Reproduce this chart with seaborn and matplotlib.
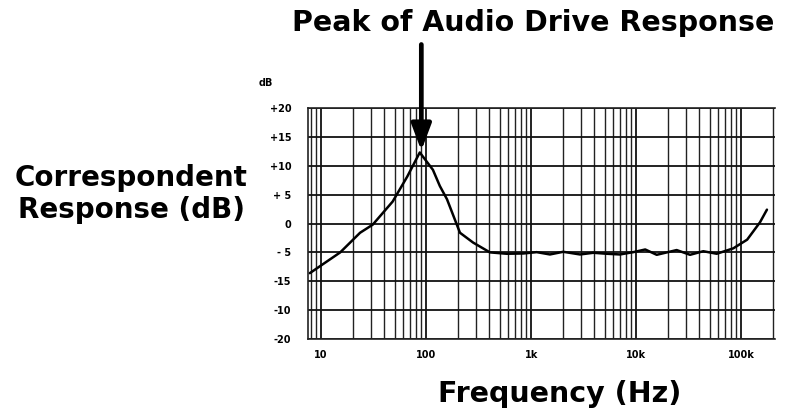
import numpy as np
import pandas as pd
import matplotlib
matplotlib.use("Agg")
import matplotlib.pyplot as plt
import seaborn as sns
from matplotlib.ticker import FixedLocator, LogLocator, NullFormatter

# response curve
freq_hz = [7.8, 15.2, 23.5, 31, 48, 66, 87, 116, 135, 158, 210, 280, 405,
           585, 842, 1130, 1510, 2020, 2920, 3910, 5250, 7020, 9400, 12200,
           15700, 24300, 32600, 43600, 58500, 84200, 114000, 151000, 176000]
response_db = [-8.6, -5.0, -1.6, -0.2, 3.8, 8.1, 12.3, 9.3, 6.5, 4.2, -1.6, -3.3, -5.0,
               -5.24, -5.19, -4.96, -5.36, -4.9, -5.36, -5.07, -5.24, -5.36, -4.96, -4.5,
               -5.42, -4.6, -5.42, -4.8, -5.24, -4.3, -2.8, 0.2, 2.4]

y_ticks = [20, 15, 10, 5, 0, -5, -10, -15, -20]
y_labels = ["+20", "+15", "+10", "+ 5", "0", "- 5", "-15", "-10", "-20"]
x_ticks = [10, 100, 1000, 10000, 100000]
x_labels = ["10", "100", "1k", "10k", "100k"]

df = pd.DataFrame({"freq": freq_hz, "db": response_db})

sns.set_style("white")
plt.rcParams['font.family'] = ['DejaVu Sans']
plt.rcParams['text.color'] = 'black'
plt.rcParams['xtick.color'] = 'black'
plt.rcParams['ytick.color'] = 'black'

fig = plt.figure(figsize=(7.85, 4.16), dpi=100)
ax = fig.add_axes([308 / 785, 77 / 416, 467 / 785, 231 / 416])

sns.lineplot(data=df, x="freq", y="db", color="black", lw=1.8, ax=ax)
ax.set_xscale("log")
ax.set_xlim(7.5, 210000)
ax.set_ylim(-20, 20)

ax.yaxis.set_major_locator(FixedLocator(y_ticks))
ax.set_yticklabels(y_labels)
ax.xaxis.set_major_locator(FixedLocator(x_ticks))
ax.set_xticklabels(x_labels)
ax.xaxis.set_minor_locator(LogLocator(base=10, subs=np.arange(2, 10)))
ax.xaxis.set_minor_formatter(NullFormatter())
ax.tick_params(which="both", length=0, labelsize=7)
ax.tick_params(axis="y", pad=12)
ax.tick_params(axis="x", pad=8)
for lbl in ax.get_xticklabels() + ax.get_yticklabels():
    lbl.set_fontweight("bold")

ax.grid(which="major", color="#111111", lw=1.3)
ax.grid(which="minor", axis="x", color="#222222", lw=1.0)
ax.set_axisbelow(True)
for side in ["left", "bottom", "top"]:
    ax.spines[side].set_color("#222222")
    ax.spines[side].set_linewidth(1.2)
ax.spines["right"].set_visible(False)
ax.set_xlabel("")
ax.set_ylabel("")

ax.text(-0.09, 1.11, "dB", transform=ax.transAxes, fontsize=7, fontweight="bold",
        ha="center", va="center")

ax.annotate("", xy=(90, 12.6), xytext=(90, 31.0), annotation_clip=False,
            arrowprops=dict(arrowstyle="-|>,head_width=0.6,head_length=1.6",
                            color="black", lw=3.4, shrinkA=0, shrinkB=0))

fig.text(533 / 785, 1 - 23 / 416, "Peak of Audio Drive Response", fontsize=20.5,
         fontweight="bold", ha="center", va="center")
fig.text(131 / 785, 1 - 194 / 416, "Correspondent\nResponse (dB)", fontsize=20,
         fontweight="bold", ha="center", va="center", linespacing=1.2)
fig.text(560 / 785, 1 - 394 / 416, "Frequency (Hz)", fontsize=20.5,
         fontweight="bold", ha="center", va="center")

fig.savefig("out.png", dpi=100, facecolor="white")
